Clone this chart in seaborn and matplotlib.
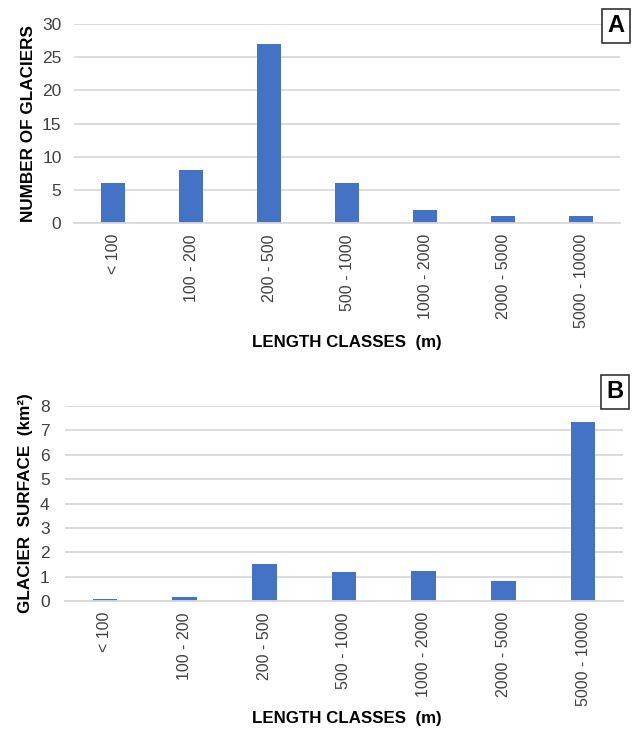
import matplotlib
matplotlib.use("Agg")
import matplotlib.pyplot as plt
import seaborn as sns
import pandas as pd

# Length classes and values per panel
classes = ["< 100", "100 - 200", "200 - 500", "500 - 1000",
           "1000 - 2000", "2000 - 5000", "5000 - 10000"]
glacier_counts = [6, 8, 27, 6, 2, 1, 1]
glacier_surface = [0.07, 0.15, 1.5, 1.18, 1.22, 0.83, 7.35]

sns.set_theme(style="white")
plt.rcParams["font.family"] = ["Liberation Sans", "DejaVu Sans"]

BAR = "#4472C4"
GRID = "#D9D9D9"
TXT = "#404040"

fig = plt.figure(figsize=(6.34, 7.35), dpi=100)
W, H = 634, 735


def add_axes(left, right, top, bottom):
    return fig.add_axes([left / W, 1 - bottom / H, (right - left) / W, (bottom - top) / H])


def draw_panel(ax, values, ymax, ystep, ylabel, ylab_x, ypad, letter, box_xy, xlab_y, xlab_x):
    df = pd.DataFrame({"cls": classes, "val": values})
    sns.barplot(data=df, x="cls", y="val", color=BAR, width=0.31,
                saturation=1, ax=ax, edgecolor="none")
    ax.set_ylim(0, ymax)
    ax.set_yticks(range(0, ymax + 1, ystep))
    ax.set_xlim(-0.5, len(classes) - 0.5)
    ax.grid(axis="y", color=GRID, linewidth=1.3)
    ax.set_axisbelow(True)
    for s in ["left", "right", "top"]:
        ax.spines[s].set_visible(False)
    ax.spines["bottom"].set_color(GRID)
    ax.spines["bottom"].set_linewidth(1.3)
    ax.tick_params(axis="both", length=0, labelsize=11.5, labelcolor=TXT)
    ax.tick_params(axis="y", pad=ypad, labelsize=12.5)
    ax.tick_params(axis="x", pad=8)
    ax.set_xticks(range(len(classes)))
    ax.set_xticklabels(classes, rotation=90, va="top", ha="center")
    ax.set_xlabel("")
    ax.set_ylabel(ylabel, fontsize=12.3, fontweight="bold", color="black")
    ax.yaxis.set_label_coords(ylab_x, 0.5)
    fig.text(xlab_x / W, 1 - xlab_y / H, "LENGTH CLASSES  (m)", fontsize=12.2,
             fontweight="bold", ha="center", va="center", color="black")
    fig.text(box_xy[0] / W, 1 - box_xy[1] / H, letter, fontsize=17, fontweight="bold",
             ha="center", va="center", color="black",
             bbox=dict(boxstyle="square,pad=0.25", facecolor="white",
                       edgecolor="#333333", linewidth=1.2))


axA = add_axes(74, 620, 24, 223)
draw_panel(axA, glacier_counts, 30, 5, "NUMBER OF GLACIERS", -0.07, 9, "A",
           (616, 26), 343, 347)

axB = add_axes(65, 623, 406, 601)
draw_panel(axB, glacier_surface, 8, 1, "GLACIER  SURFACE  (km²)", -0.058, 11, "B",
           (615, 392), 719, 347)

fig.savefig("out.png", dpi=100)
